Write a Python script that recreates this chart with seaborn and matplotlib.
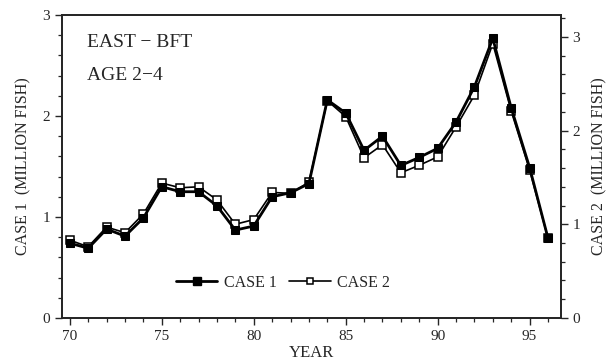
import matplotlib
matplotlib.use("Agg")
import matplotlib.pyplot as plt
from matplotlib.ticker import MultipleLocator
from matplotlib.lines import Line2D
import seaborn as sns
import pandas as pd

# Recruitment estimates, east Atlantic bluefin tuna, ages 2-4
years = list(range(1970, 1997))
year_labels = [70, 75, 80, 85, 90, 95]
case1 = [0.74, 0.69, 0.88, 0.81, 0.99, 1.30, 1.25, 1.25, 1.11, 0.87, 0.91,
         1.20, 1.24, 1.33, 2.16, 2.03, 1.66, 1.80, 1.51, 1.59, 1.68, 1.94,
         2.29, 2.77, 2.08, 1.49, 0.79]
case2 = [0.83, 0.76, 0.97, 0.91, 1.11, 1.44, 1.39, 1.40, 1.26, 1.00, 1.05,
         1.34, 1.33, 1.45, 2.32, 2.15, 1.71, 1.85, 1.55, 1.63, 1.72, 2.04,
         2.38, 2.93, 2.21, 1.58, 0.85]

df = pd.DataFrame({"year": [y - 1900 for y in years], "case1": case1, "case2": case2})

sns.set_style("ticks")
plt.rcParams["font.family"] = ["Liberation Serif", "DejaVu Serif"]
plt.rcParams["axes.linewidth"] = 1.3

fig = plt.figure(figsize=(6.07, 3.60), dpi=100)
ax = fig.add_axes([0.102, 0.117, 0.822, 0.841])
ax2 = ax.twinx()

sns.lineplot(data=df, x="year", y="case2", ax=ax2, color="black", linewidth=1.2,
             marker="s", markersize=5.5, markerfacecolor="white",
             markeredgecolor="black", markeredgewidth=1.1, zorder=2)
sns.lineplot(data=df, x="year", y="case1", ax=ax, color="black", linewidth=2.0,
             marker="s", markersize=6, markerfacecolor="black",
             markeredgecolor="black", zorder=3)
ax.set_zorder(ax2.get_zorder() + 1)
ax.patch.set_visible(False)

ax.set_xlim(69.57, 96.7)
ax.set_ylim(0, 3)
ax2.set_ylim(0, 3.234)

ax.set_xticks(year_labels)
ax.xaxis.set_minor_locator(MultipleLocator(1))
ax.yaxis.set_major_locator(MultipleLocator(1))
ax.yaxis.set_minor_locator(MultipleLocator(0.2))
ax2.yaxis.set_major_locator(MultipleLocator(1))
ax2.yaxis.set_minor_locator(MultipleLocator(0.2))

for a in (ax, ax2):
    a.tick_params(which="major", direction="out", length=5, width=1, labelsize=11)
    a.tick_params(which="minor", direction="out", length=3, width=0.9)
    for s in a.spines.values():
        s.set_visible(True)
        s.set_linewidth(1.3)

ax.set_xlabel("YEAR", fontsize=12, labelpad=2)
ax.set_ylabel("CASE 1  (MILLION FISH)", fontsize=11.5, labelpad=8)
ax2.set_ylabel("CASE 2  (MILLION FISH)", fontsize=11.5, labelpad=8)

ax.text(0.05, 0.91, "EAST \u2212 BFT", transform=ax.transAxes, fontsize=14,
        va="center", ha="left")
ax.text(0.05, 0.80, "AGE 2\u22124", transform=ax.transAxes, fontsize=14,
        va="center", ha="left")

handles = [
    Line2D([], [], color="black", linewidth=2.0, marker="s", markersize=5.5,
           markerfacecolor="black"),
    Line2D([], [], color="black", linewidth=1.2, marker="s", markersize=5,
           markerfacecolor="white", markeredgewidth=1.1),
]
ax.legend(handles, ["CASE 1", "CASE 2"], loc="center", bbox_to_anchor=(0.443, 0.115),
          ncol=2, frameon=False, fontsize=11.5, handlelength=2.6,
          columnspacing=0.8, handletextpad=0.4)

fig.savefig("out.png", dpi=100)
